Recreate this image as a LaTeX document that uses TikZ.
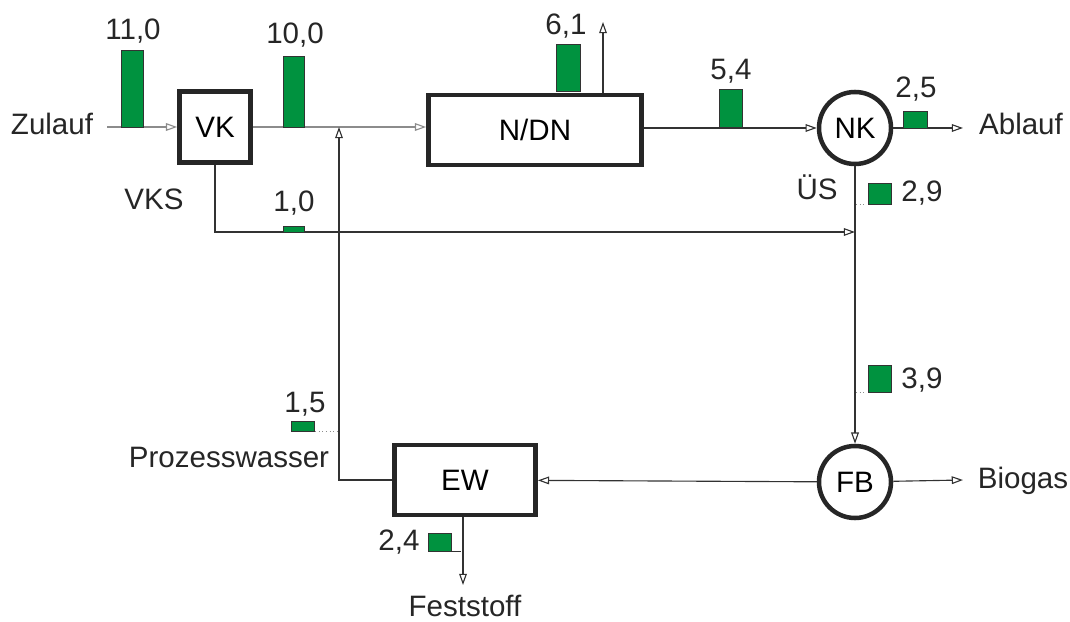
\documentclass[tikz,border=0pt]{standalone}
\usepackage{fontspec}
\setmainfont{Liberation Sans}
\usetikzlibrary{arrows.meta}
\definecolor{cgruen}{RGB}{0,146,63}
\definecolor{clinie}{RGB}{50,50,50}
\definecolor{chell}{RGB}{140,140,140}
\tikzset{
  box/.style={draw=black!85, line width=3.2pt, inner sep=0pt},
  kreis/.style={circle, draw=black!85, line width=3.2pt, minimum size=1.8cm, inner sep=0pt},
  txt/.style={font=\fontsize{21}{25}\selectfont, text=black!85, inner sep=0pt, anchor=base},
  strom/.style={clinie, line width=0.8pt},
  balken/.style={fill=cgruen, draw=black!80, line width=0.6pt},
  punkte/.style={chell, line width=0.6pt, dotted}
}

\begin{document}
\begin{tikzpicture}[x=0.025cm, y=-0.025cm, >={Triangle[open,length=8pt,width=5.5pt]}]
\useasboundingbox (0,0) rectangle (1070,622);
\node[box, minimum width=1.78cm, minimum height=1.78cm, font=\fontsize{21}{25}\selectfont] (vk) at (215,127) {VK};
\node[box, minimum width=5.33cm, minimum height=1.75cm, font=\fontsize{21}{25}\selectfont] (nd) at (535,130) {N/DN};
\node[box, minimum width=3.53cm, minimum height=1.75cm, font=\fontsize{21}{25}\selectfont] (ew) at (465,480) {EW};
\node[kreis, font=\fontsize{21}{25}\selectfont] (nk) at (855,128) {NK};
\node[kreis, font=\fontsize{21}{25}\selectfont] (fb) at (855,482) {FB};

\node[txt] (zulauf) at (52,135) {Zulauf};
\node[txt] (vks) at (154,210) {VKS};
\node[txt] (ues) at (817,200) {ÜS};
\node[txt] (ablauf) at (1021,135) {Ablauf};
\node[txt] (biogas) at (1023,488) {Biogas};
\node[txt] (prozess) at (229,467) {Prozesswasser};
\node[txt] (feststoff) at (465,616) {Feststoff};

\coordinate (zin) at (107,127);
\coordinate (j1) at (339,127);
\coordinate (jv) at (855,232);
\coordinate (gas) at (603,22);
\coordinate (aus) at (963,128);
\coordinate (bio) at (963,480);
\coordinate (fst) at (463,585);

\draw[strom,chell,->] (zin) -- (vk);
\draw[strom,chell] (vk) -- (j1);
\draw[strom,chell,->] (j1) -- (nd.west |- j1);
\draw[strom,->] (vk.south) |- (jv);
\draw[strom,->] (nd.north -| gas) -- (gas);
\draw[strom,->] (nd.east |- nk.west) -- (nk.west);
\draw[strom,->] (nk) -- (aus);
\draw[strom,->] (nk) -- (fb);
\draw[strom,->] (fb) -- (bio);
\draw[strom,->] (fb) -- (ew);
\draw[strom,->] (ew) -| (j1);
\draw[strom,->] (ew.south -| fst) -- (fst);

\draw[balken] (121,50) rectangle (143,127);
\draw[balken] (283,56) rectangle (304,127);
\draw[balken] (283,226) rectangle (304,232);
\draw[balken] (556,44) rectangle (580,91);
\draw[balken] (719,89) rectangle (742,127);
\draw[balken] (903,111) rectangle (927,128);
\draw[balken] (868,183) rectangle (891,204);
\draw[balken] (868,365) rectangle (891,392);
\draw[balken] (291,421) rectangle (314,431);
\draw[balken] (428,533) rectangle (451,551);
\draw[punkte] (856,204) -- (866,204);
\draw[punkte] (856,392) -- (866,392);
\draw[punkte] (315,431) -- (338,431);
\draw[strom,line width=0.5pt] (452,551) -- (461,551);

\node[txt] (w110) at (133,40) {11,0};
\node[txt] (w100) at (295,44) {10,0};
\node[txt] (w10) at (294,212) {1,0};
\node[txt] (w61) at (566,35) {6,1};
\node[txt] (w54) at (731,80) {5,4};
\node[txt] (w25) at (916,98) {2,5};
\node[txt] (w29) at (922,202) {2,9};
\node[txt] (w39) at (922,388) {3,9};
\node[txt] (w15) at (305,412) {1,5};
\node[txt] (w24) at (399,550) {2,4};
\end{tikzpicture}
\end{document}
